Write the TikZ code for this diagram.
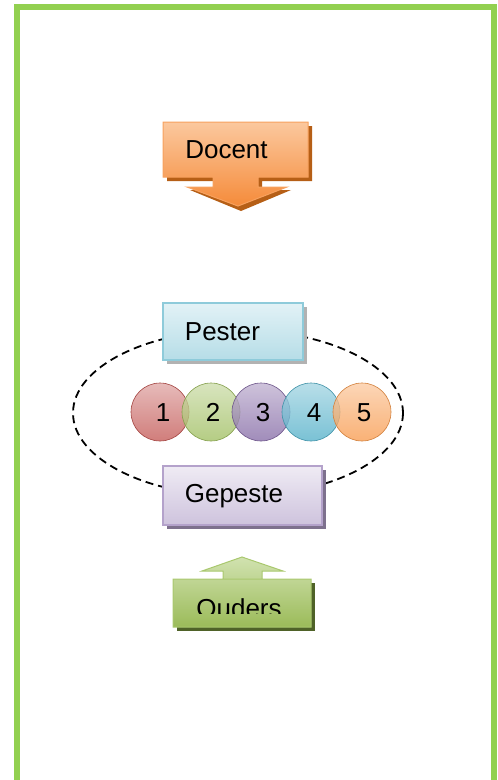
\documentclass[tikz,border=0pt]{standalone}
\usepackage{fontspec}
\setmainfont{Liberation Sans}
\definecolor{frame}{HTML}{92D050}
\definecolor{orTop}{HTML}{FBC89E}
\definecolor{orBot}{HTML}{F58B3A}
\definecolor{orLine}{HTML}{F7A15E}
\definecolor{orShd}{HTML}{B65F16}
\definecolor{blTop}{HTML}{E2F2F6}
\definecolor{blBot}{HTML}{B6DDE7}
\definecolor{blLine}{HTML}{8ECBDA}
\definecolor{puTop}{HTML}{EFEBF4}
\definecolor{puBot}{HTML}{CEC3DD}
\definecolor{puLine}{HTML}{B4A2CB}
\definecolor{grTop}{HTML}{C9DDA2}
\definecolor{grBot}{HTML}{9BBB59}
\definecolor{grLine}{HTML}{A9C86E}
\definecolor{grShd}{HTML}{4F6228}
\definecolor{cRed}{HTML}{C0504D}
\definecolor{cGreen}{HTML}{9BBB59}
\definecolor{cPurple}{HTML}{8064A2}
\definecolor{cBlue}{HTML}{4BACC6}
\definecolor{cOrange}{HTML}{F79646}
\tikzset{
  lbl/.style={font=\fontsize{26}{30}\selectfont, inner sep=0pt, anchor=base},
  boxshape/.style={rectangle, inner sep=0pt, line width=1.2pt},
  ball/.style={circle, minimum size=58pt, inner sep=0pt, line width=0.6pt, fill opacity=0.78},
}
\begin{document}
\begin{tikzpicture}[x=1pt,y=-1pt]
\useasboundingbox (0,0) rectangle (498,780);
% frame
\draw[frame, line width=6pt, line join=miter] (17,780) -- (17,7) -- (494,7) -- (494,780);

% Docent callout (down arrow)
\fill[orShd] (167,126) -- (312,126) -- (312,181) -- (262,181) -- (262,190) -- (291,190) -- (241,211) -- (190,190) -- (217,190) -- (217,181) -- (167,181) -- cycle;
\draw[orLine, line width=1pt, top color=orTop, bottom color=orBot]
  (163,122) -- (308,122) -- (308,177) -- (258,177) -- (258,187) -- (287,187) -- (238,206) -- (187,187) -- (213,187) -- (213,177) -- (163,177) -- cycle;
\node[lbl] (docent) at (226.5,158) {Docent};

% dashed cycle
\draw[black, line width=1.8pt, dash pattern=on 8pt off 5pt] (238,413) ellipse [x radius=165, y radius=83];

% Pester box
\fill[black!30] (167,307) rectangle (307,364);
\node[boxshape, draw=blLine, top color=blTop, bottom color=blBot, minimum width=140pt, minimum height=57pt] (pesterbox) at (233,331.5) {};
\node[lbl] (pester) at (222.5,340) {Pester};

% Gepeste box
\fill[black!30!puLine] (167,470) rectangle (326,529);
\node[boxshape, draw=puLine, top color=puTop, bottom color=puBot, minimum width=159pt, minimum height=59pt] (gepestebox) at (242.5,495.5) {};
\node[lbl] (gepeste) at (234,502) {Gepeste};

% balls
\foreach \c/\x/\n in {cRed/160/1, cGreen/211/2, cPurple/261/3, cBlue/311/4, cOrange/362/5}{
  \node[ball, draw=\c!85!black, top color=\c!50!white, bottom color=\c!95!white] (b\n) at (\x,412) {};
}
\foreach \x/\n in {163/1, 213/2, 263/3, 314/4, 364/5}{
  \node[lbl] (d\n) at (\x,421) {\n};
}

% Ouders callout (up arrow)
\fill[grShd] (177,583) rectangle (315,631);
\draw[grLine, line width=1pt, top color=grTop!85!white, bottom color=grBot]
  (173,579) -- (311,579) -- (311,627) -- (173,627) -- (173,579) -- (223,579) -- (223,571) -- (202,571) -- (242,557) -- (283,571) -- (262,571) -- (262,579) -- cycle;
\begin{scope}
  \clip (173,579) rectangle (311,613);
  \node[lbl] (ouders) at (239,617) {Ouders};
\end{scope}
\end{tikzpicture}
\end{document}
